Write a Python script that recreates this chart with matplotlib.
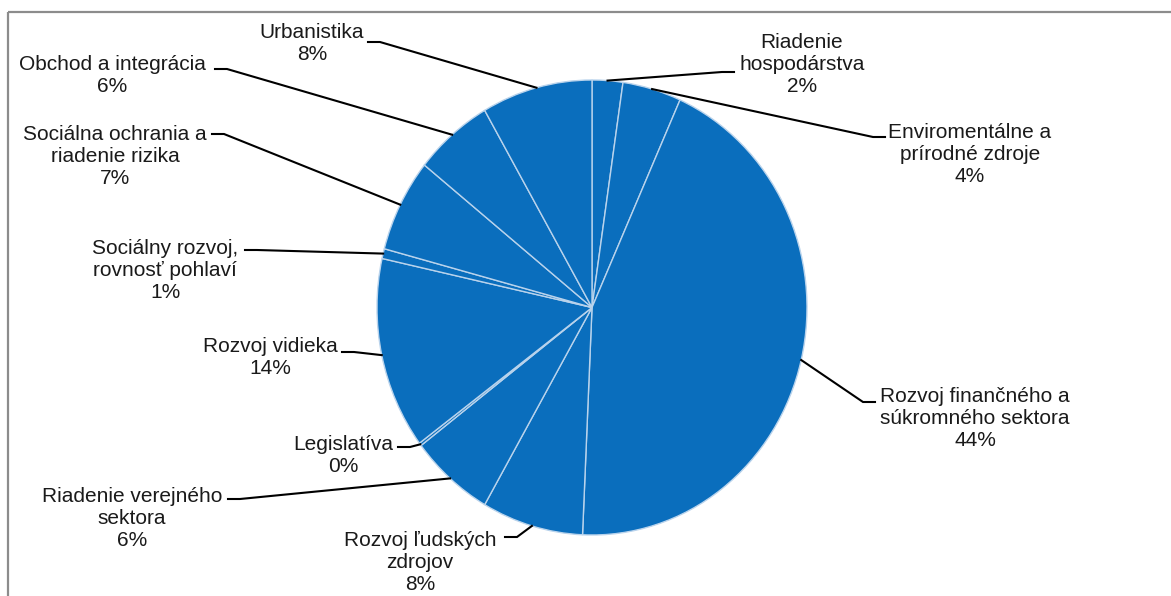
import matplotlib
matplotlib.use("Agg")
from matplotlib import pyplot as plt
import numpy as np

plt.rcParams['font.family'] = ['Liberation Sans', 'DejaVu Sans']

# slices, clockwise from 12 o'clock
names = ["Riadenie\nhospodárstva",
         "Enviromentálne a\nprírodné zdroje",
         "Rozvoj finančného a\nsúkromného sektora",
         "Rozvoj ľudských\nzdrojov",
         "Riadenie verejného\nsektora",
         "Legislatíva",
         "Rozvoj vidieka",
         "Sociálny rozvoj,\nrovnosť pohlaví",
         "Sociálna ochrania a\nriadenie rizika",
         "Obchod a integrácia",
         "Urbanistika"]
values = [2.3, 4.4, 43.9, 7.6, 6.3, 0.2, 13.6, 0.7, 6.6, 5.9, 8.3]

# layout (figure pixels, y from top): text centre, leader start
label_pos = [(802, 65), (970, 155), (975, 418), (420, 562), (132, 519),
             (343, 455), (270, 358), (165, 271), (115, 157), (112, 75),
             (312, 43)]
leader_start = [(734, 72), (885, 137), (875, 402), (505, 537), (228, 499),
                (398, 447), (342, 352), (245, 250), (212, 134), (215, 69),
                (368, 42)]

W, H = 1171, 596
fig = plt.figure(figsize=(W / 100, H / 100), dpi=100)

# pie axes: bounding box of the (slightly stretched) pie
pl, pr, pt, pb = 377, 807, 80, 535
ax = fig.add_axes([pl / W, (H - pb) / H, (pr - pl) / W, (pb - pt) / H])
wedges, _ = ax.pie(values, startangle=90, counterclock=False,
                   colors=['#0a6ebd'] * len(values), radius=1,
                   wedgeprops=dict(edgecolor='#b9d3ec', linewidth=1.0))
ax.set_aspect('auto')
ax.set_xlim(-1, 1)
ax.set_ylim(-1, 1)
ax.axis('off')

ov = fig.add_axes([0, 0, 1, 1], zorder=3)
ov.set_xlim(0, W)
ov.set_ylim(H, 0)
ov.axis('off')
ov.patch.set_alpha(0)

# frame of the chart area
ov.plot([8, W], [12, 12], color='#8c8c8c', lw=1.6, solid_capstyle='butt')
ov.plot([8, 8], [12, H], color='#8c8c8c', lw=1.6, solid_capstyle='butt')

total = sum(values)
to_ov = ov.transData.inverted()
for w, name, v, (tx, ty), (sx, sy) in zip(wedges, names, values,
                                            label_pos, leader_start):
    mid = np.deg2rad((w.theta1 + w.theta2) / 2)
    ex, ey = to_ov.transform(ax.transData.transform((np.cos(mid), np.sin(mid))))
    ov.text(tx, ty, f"{name}\n{round(v / total * 100)}%", ha='center',
            va='center', fontsize=15, color='#1a1a1a', linespacing=1.2)
    d = 12 if ex > sx else -12
    if abs(ex - sx) < abs(d):
        d = ex - sx
    ov.plot([sx, sx + d, ex], [sy, sy, ey], color='black', lw=1.5,
            solid_joinstyle='miter')

fig.savefig("out.png", dpi=100)
